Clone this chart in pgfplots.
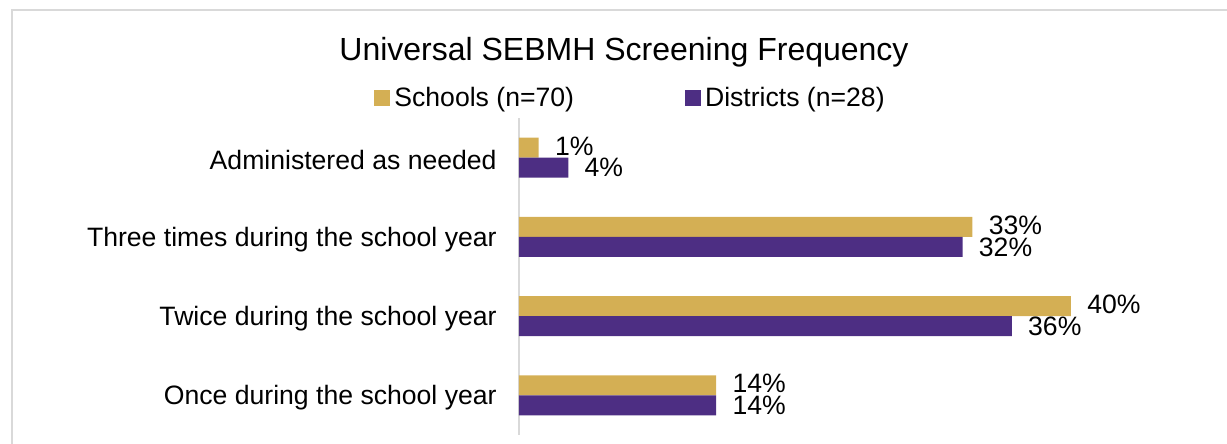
\documentclass[border=0pt]{standalone}
\usepackage{pgfplots}
\pgfplotsset{compat=1.18}
\usepackage{fontspec}
\setmainfont{Liberation Sans}
\definecolor{gold}{RGB}{212,175,84}
\definecolor{uwpurple}{RGB}{77,46,131}
\definecolor{framegray}{RGB}{217,217,217}
\newcommand{\lblfont}{\fontsize{13.3}{16}\selectfont}
\begin{document}
\begin{tikzpicture}
\useasboundingbox (0pt,0pt) rectangle (613.5pt,222pt);
\draw[framegray, line width=1pt] (5.75pt,-5pt) -- (5.75pt,216.75pt) -- (620pt,216.75pt);
\node[font=\fontsize{16}{19}\selectfont, anchor=base] at (312pt,191.5pt) {Universal SEBMH Screening Frequency};
\begin{axis}[
  at={(259.5pt,4.5pt)}, anchor=south west,
  scale only axis,
  width=317.4pt, height=158.5pt,
  xbar, bar width=10pt,
  xmin=0, xmax=46,
  ymin=-0.5, ymax=3.5,
  ytick={0,1,2,3},
  yticklabels={Once during the school year, Twice during the school year, Three times during the school year, Administered as needed},
  xtick=\empty,
  major tick length=0pt,
  axis x line=none,
  axis y line*=left,
  y axis line style={framegray, line width=1pt, -},
  ticklabel style={font=\lblfont},
  yticklabel style={inner sep=0pt, xshift=-11pt, yshift=-1.2pt},
  nodes near coords={\pgfmathprintnumber[assume math mode=true, fixed, precision=0]{\pgfplotspointmeta}\%},
  every node near coord/.append style={font=\lblfont, inner sep=0pt, xshift=8pt, anchor=west, black},
  legend columns=2,
  legend style={at={(-0.2284,1.063)}, anchor=west, draw=none, fill=none, inner sep=0pt,
    font=\lblfont,
    /tikz/every even column/.append style={column sep=53.5pt}},
  legend image code/.code={\fill[#1] (0pt,-4pt) rectangle (8pt,4pt);},
  clip=false,
]
\addplot[fill=gold, draw=none, bar shift=5pt, every node near coord/.append style={yshift=0.8pt}] coordinates {(14.29,0) (40.00,1) (32.86,2) (1.43,3)};
\addlegendentry{Schools (n=70)}
\addplot[fill=uwpurple, draw=none, bar shift=-5pt] coordinates {(14.29,0) (35.71,1) (32.14,2) (3.57,3)};
\addlegendentry{Districts (n=28)}
\end{axis}
\end{tikzpicture}
\end{document}
